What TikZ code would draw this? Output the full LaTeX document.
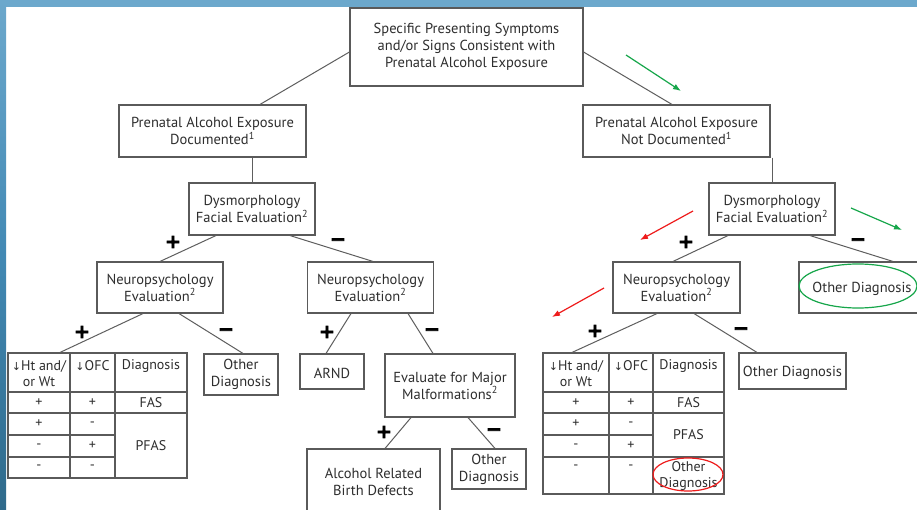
\documentclass[tikz,border=0pt]{standalone}
\usepackage{fontspec}
\setmainfont{PT Sans}
\newfontfamily\sym{DejaVu Sans}
\newfontfamily\signfont[BoldFont={DejaVu Sans Bold},BoldFeatures={FakeBold=4}]{DejaVu Sans}
\usetikzlibrary{arrows.meta,calc}
\definecolor{txt}{HTML}{2E2E2E}
\definecolor{boxgray}{HTML}{5A5A5A}
\definecolor{linegray}{HTML}{5E5E5E}
\definecolor{arrgreen}{HTML}{16A64A}
\definecolor{arrred}{HTML}{EE1C1C}
\definecolor{bandtop}{HTML}{6CA8CC}
\definecolor{bandmid}{HTML}{4289B4}
\definecolor{bandbot}{HTML}{2F6A8B}
\begin{document}
\begin{tikzpicture}[x=1pt,y=-1pt,
  box/.style={draw=boxgray,line width=1.1pt,inner sep=0pt,align=center,text=txt,font=\fontsize{14.5}{17}\selectfont,execute at begin node={\rule{0pt}{14pt}}},
  conn/.style={draw=linegray,line width=1pt},
  tline/.style={draw=boxgray,line width=1.1pt},
  cell/.style={inner sep=0pt,align=center,text=txt,font=\fontsize{14}{16}\selectfont},
  sign/.style={inner sep=0pt,text=black,font=\signfont\bfseries\fontsize{19}{19}\selectfont},
  garrow/.style={draw=arrgreen,line width=1.2pt,-{Latex[length=8pt,width=6pt]}},
  rarrow/.style={draw=arrred,line width=1.2pt,-{Latex[length=8pt,width=6pt]}},
  ring/.style={line width=1.2pt}]
\useasboundingbox (0,0) rectangle (917,510);
\fill[white] (0,0) rectangle (917,510);
\fill[bandtop] (0,0) rectangle (917,7);
\shade[top color=bandtop,bottom color=bandbot,middle color=bandmid] (0,0) rectangle (6,510);

% boxes
\node[box,minimum width=233pt,minimum height=78pt] (top) at (466.5,47) {Specific Presenting Symptoms\\and/or Signs Consistent with\\Prenatal Alcohol Exposure};
\node[box,minimum width=187pt,minimum height=52pt] (pd) at (212.5,131) {Prenatal Alcohol Exposure\\Documented\textsuperscript{1}};
\node[box,minimum width=187pt,minimum height=52pt] (pn) at (676.5,131) {Prenatal Alcohol Exposure\\Not Documented\textsuperscript{1}};
\node[box,minimum width=126pt,minimum height=52pt] (dl) at (252,209) {Dysmorphology\\Facial Evaluation\textsuperscript{2}};
\node[box,minimum width=126pt,minimum height=52pt] (dr) at (772,209) {Dysmorphology\\Facial Evaluation\textsuperscript{2}};
\node[box,minimum width=126pt,minimum height=51pt] (nl) at (160,287.5) {Neuropsychology\\Evaluation\textsuperscript{2}};
\node[box,minimum width=126pt,minimum height=51pt] (nm) at (370.5,287.5) {Neuropsychology\\Evaluation\textsuperscript{2}};
\node[box,minimum width=127pt,minimum height=51pt] (nr) at (676.5,287.5) {Neuropsychology\\Evaluation\textsuperscript{2}};
\node[box,minimum width=126pt,minimum height=51pt] (odr) at (862,287.5) {Other Diagnosis};
\node[box,minimum width=74pt,minimum height=41pt] (odl) at (241,374.5) {Other\\Diagnosis};
\node[box,minimum width=64pt,minimum height=35pt] (arnd) at (332,371.5) {ARND};
\node[box,minimum width=130pt,minimum height=63pt] (eval) at (450,385.5) {Evaluate for Major\\Malformations\textsuperscript{2}};
\node[box,minimum width=133pt,minimum height=65pt] (arbd) at (373.5,481.5) {Alcohol Related\\Birth Defects};
\node[box,minimum width=74pt,minimum height=40pt] (odm) at (489,469) {Other\\Diagnosis};
\node[box,minimum width=107pt,minimum height=36pt] (odr2) at (792.5,371) {Other Diagnosis};

% tables
\node[draw=boxgray,line width=1.1pt,inner sep=0pt,minimum width=179pt,minimum height=125pt] (tL) at (97.5,415.5) {};
\node[draw=boxgray,line width=1.1pt,inner sep=0pt,minimum width=181pt,minimum height=141pt] (tR) at (633.5,423.5) {};
\draw[tline] (70,353) -- (70,478) (115,353) -- (115,478)
  (8,392) -- (187,392) (8,413) -- (187,413) (8,435) -- (115,435) (8,457) -- (115,457);
\draw[tline] (609,353) -- (609,494) (653,353) -- (653,494)
  (543,392) -- (724,392) (543,413) -- (724,413) (543,435) -- (653,435) (543,457) -- (724,457);

% left table text
\node[cell] (lh1) at (39,374) {{\sym\fontsize{11}{11}\selectfont ↓}Ht and/\\or Wt};
\node[cell] (lh2) at (92.5,366) {{\sym\fontsize{11}{11}\selectfont ↓}OFC};
\node[cell] (lh3) at (151,366) {Diagnosis};
\node[cell] (l11) at (39,403) {+};
\node[cell] (l12) at (92.5,403) {+};
\node[cell] (l13) at (151,403) {FAS};
\node[cell] (l21) at (39,424) {+};
\node[cell] (l22) at (92.5,424) {-};
\node[cell] (l31) at (39,446) {-};
\node[cell] (l32) at (92.5,446) {+};
\node[cell] (l3d) at (151,446) {PFAS};
\node[cell] (l41) at (39,467) {-};
\node[cell] (l42) at (92.5,467) {-};

% right table text
\node[cell] (rh1) at (576,374) {{\sym\fontsize{11}{11}\selectfont ↓}Ht and/\\or Wt};
\node[cell] (rh2) at (631,366) {{\sym\fontsize{11}{11}\selectfont ↓}OFC};
\node[cell] (rh3) at (688.5,366) {Diagnosis};
\node[cell] (r11) at (576,403) {+};
\node[cell] (r12) at (631,403) {+};
\node[cell] (r13) at (688.5,403) {FAS};
\node[cell] (r21) at (576,424) {+};
\node[cell] (r22) at (631,424) {-};
\node[cell] (r2d) at (688.5,435) {PFAS};
\node[cell] (r31) at (576,446) {-};
\node[cell] (r32) at (631,446) {+};
\node[cell] (r41) at (576,467) {-};
\node[cell] (r42) at (631,467) {-};
\node[cell] (r4d) at (688.5,476) {Other\\Diagnosis};

% connectors
\draw[conn] ([yshift=-5pt]top.west) -- ([xshift=47.5pt]pd.north);
\draw[conn] ([yshift=-5pt]top.east) -- ([xshift=-4.5pt]pn.north);
\draw[conn] (pd.south -| dl.north) -- (dl.north);
\draw[conn] (pn.south -| dr.north) -- (dr.north);
\draw[conn] ([xshift=-36pt]dl.south) -- (nl.north);
\draw[conn] ([xshift=38pt]dl.south) -- ([xshift=2.5pt]nm.north);
\draw[conn] ([xshift=-44pt]dr.south) -- ([xshift=-3.5pt]nr.north);
\draw[conn] ([xshift=38pt]dr.south) -- ([xshift=31pt]odr.north);
\draw[conn] ([xshift=-17pt]nl.south) -- ([xshift=-37.5pt]tL.north);
\draw[conn] ([xshift=19pt]nl.south) -- ([xshift=2pt]odl.north);
\draw[conn] ([xshift=-19.5pt]nm.south) -- ([xshift=-6pt]arnd.north);
\draw[conn] ([xshift=37.5pt]nm.south) -- ([xshift=-17pt]eval.north);
\draw[conn] ([xshift=-39pt]eval.south) -- ([xshift=11.5pt]arbd.north);
\draw[conn] ([xshift=18pt]eval.south) -- ([xshift=6pt]odm.north);
\draw[conn] ([xshift=-19.5pt]nr.south) -- ([xshift=-61.5pt]tR.north);
\draw[conn] ([xshift=17.5pt]nr.south) -- ([xshift=-35.5pt]odr2.north);

% signs
\node[sign] (s1) at (173,242) {+};
\node[sign] (s2) at (338,242) {−};
\node[sign] (s3) at (82,332) {+};
\node[sign] (s4) at (226,332) {−};
\node[sign] (s5) at (327,332) {+};
\node[sign] (s6) at (432,332) {−};
\node[sign] (s7) at (384,432) {+};
\node[sign] (s8) at (494,432) {−};
\node[sign] (s9) at (686,242) {+};
\node[sign] (s10) at (858,242) {−};
\node[sign] (s11) at (595,331) {+};
\node[sign] (s12) at (741,331) {−};

% highlight ellipses
\draw[ring,draw=arrgreen] (858,286) ellipse [x radius=59, y radius=22];
\draw[ring,draw=arrred] (688,474.5) ellipse [x radius=35, y radius=16.5];

% annotation arrows
\coordinate (g1a) at (626,55); \coordinate (g1b) at (681,91);
\coordinate (g2a) at (851,208); \coordinate (g2b) at (902,230);
\coordinate (r1a) at (693,211); \coordinate (r1b) at (640,240);
\coordinate (r2a) at (604,288); \coordinate (r2b) at (552,317);
\draw[garrow] (g1a) -- (g1b);
\draw[garrow] (g2a) -- (g2b);
\draw[rarrow] (r1a) -- (r1b);
\draw[rarrow] (r2a) -- (r2b);
\end{tikzpicture}
\end{document}
